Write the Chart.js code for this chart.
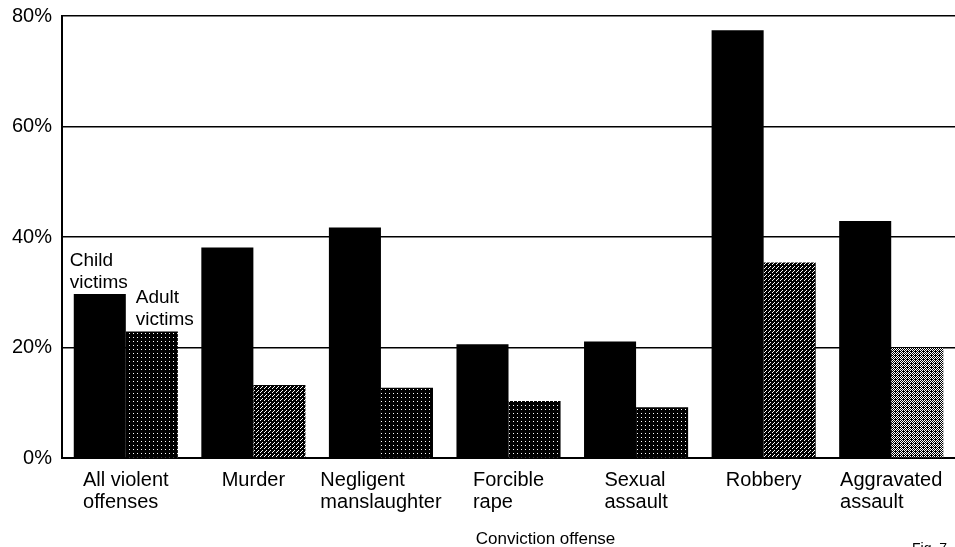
<!DOCTYPE html>
<html>
<head>
<meta charset="utf-8">
<script src="https://cdn.jsdelivr.net/npm/chart.js@4/dist/chart.umd.min.js"></script>
<style>
  html, body { margin: 0; padding: 0; background: #fff; }
  #wrap { width: 955px; height: 547px; position: relative; }
</style>
</head>
<body>
<div id="wrap"><canvas id="chart"></canvas></div>
<script>
// Kategorien (mehrzeilig) und Werte in Prozent
const kategorien = [
  ['All violent', 'offenses'],
  ['Murder'],
  ['Negligent', 'manslaughter'],
  ['Forcible', 'rape'],
  ['Sexual', 'assault'],
  ['Robbery'],
  ['Aggravated', 'assault'],
];
const kinderOpfer = [29.7, 38.1, 41.7, 20.6, 21.1, 77.4, 42.9];
const erwachseneOpfer = [22.9, 13.2, 12.7, 10.3, 9.2, 35.4, 19.9];
const yTicks = [0, 20, 40, 60, 80];
const achsenTitel = 'Conviction offense';
const serienNamen = [['Child', 'victims'], ['Adult', 'victims']];

// Raster-Muster für die grauen Balken (Scan-Optik)
function muster(weiss) {
  const c = document.createElement('canvas');
  c.width = 4; c.height = 4;
  const g = c.getContext('2d');
  g.fillStyle = '#000';
  g.fillRect(0, 0, 4, 4);
  g.fillStyle = '#fff';
  weiss.forEach(([x, y]) => g.fillRect(x, y, 1, 1));
  return g.createPattern(c, 'repeat');
}
const dunkel = muster([[1, 1]]);
const mittel = muster([[0, 0], [2, 2], [1, 3]]);
const hell = muster([[0, 0], [2, 0], [1, 1], [3, 1], [0, 2], [2, 2], [1, 3]]);
const erwFarben = [dunkel, mittel, dunkel, dunkel, dunkel, mittel, hell];

const FONT = '"Liberation Sans", Arial, sans-serif';

const beschriftung = {
  id: 'beschriftung',
  afterDraw(chart) {
    const { ctx, chartArea, scales } = chart;
    const x = scales.x;
    ctx.save();
    ctx.fillStyle = '#000';
    ctx.textAlign = 'left';
    ctx.textBaseline = 'alphabetic';
    ctx.font = '20px ' + FONT;
    kategorien.forEach((zeilen, i) => {
      const mitte = x.getPixelForTick(i);
      const breite = Math.max(...zeilen.map((z) => ctx.measureText(z).width));
      zeilen.forEach((z, j) => ctx.fillText(z, mitte - breite / 2, chartArea.bottom + 28 + j * 22));
    });
    ctx.font = '17px ' + FONT;
    ctx.textAlign = 'center';
    ctx.fillText(achsenTitel, (chartArea.left + chartArea.right) / 2 + 37, chartArea.bottom + 86);

    // Serien-Beschriftungen über den ersten Balken
    ctx.font = '19px ' + FONT;
    ctx.textAlign = 'left';
    const b0 = chart.getDatasetMeta(0).data[0];
    const b1 = chart.getDatasetMeta(1).data[0];
    const links0 = b0.x - b0.width / 2 - 4;
    const links1 = b1.x - b1.width / 2 + 10;
    serienNamen[0].forEach((z, j) => ctx.fillText(z, links0, b0.y - 28 + j * 22));
    serienNamen[1].forEach((z, j) => ctx.fillText(z, links1, b1.y - 28 + j * 22));

    ctx.font = '14px ' + FONT;
    ctx.textBaseline = 'top';
    ctx.fillText('Fig. 7', 912, 542);
    ctx.restore();
  },
};

new Chart(document.getElementById('chart'), {
  type: 'bar',
  data: {
    labels: kategorien.map((k) => k.join(' ')),
    datasets: [
      { label: 'Child victims', data: kinderOpfer, backgroundColor: '#000', borderWidth: 0 },
      { label: 'Adult victims', data: erwachseneOpfer, backgroundColor: erwFarben, borderWidth: 0 },
    ],
  },
  options: {
    responsive: true,
    maintainAspectRatio: false,
    animation: false,
    layout: { padding: { left: 2, right: 0, top: 0, bottom: 81 } },
    plugins: { legend: { display: false }, tooltip: { enabled: false } },
    datasets: { bar: { categoryPercentage: 0.816, barPercentage: 1.0 } },
    scales: {
      x: {
        grid: { display: false },
        border: { display: true, color: '#000', width: 2 },
        ticks: { display: false },
      },
      y: {
        min: 0,
        max: 80,
        afterBuildTicks: (s) => { s.ticks = yTicks.map((v) => ({ value: v })); },
        grid: { color: '#000', lineWidth: 1.5, drawTicks: false },
        border: { display: true, color: '#000', width: 2 },
        ticks: {
          color: '#000',
          padding: 10,
          font: { family: FONT, size: 20, lineHeight: 0.6 },
          callback: (v) => v + '%',
        },
      },
    },
  },
  plugins: [beschriftung],
});
</script>
</body>
</html>
